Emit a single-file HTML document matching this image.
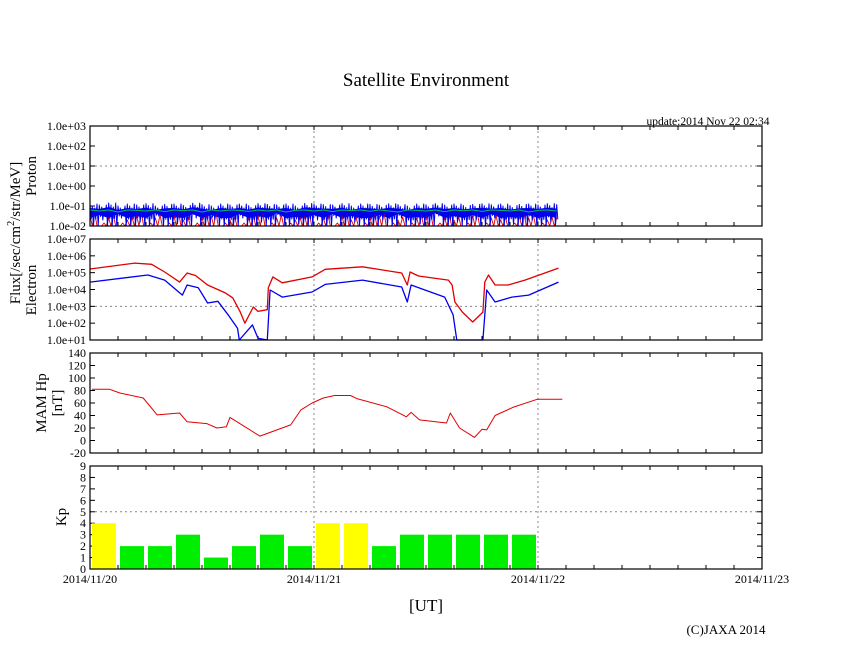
<!DOCTYPE html>
<html><head><meta charset="utf-8"><style>
html,body{margin:0;padding:0;background:#fff;}
svg{display:block;font-family:"Liberation Serif",serif;}
</style></head><body>
<svg id="c" width="846" height="655" xmlns="http://www.w3.org/2000/svg"></svg>
<script>
// ---- data (time in hours from 2014/11/20 00:00 UT) ----
const dayLabels = ["2014/11/20","2014/11/21","2014/11/22","2014/11/23"];
const protonTicks = ["1.0e-02","1.0e-01","1.0e+00","1.0e+01","1.0e+02","1.0e+03"];
const electronTicks = ["1.0e+01","1.0e+02","1.0e+03","1.0e+04","1.0e+05","1.0e+06","1.0e+07"];
const hpTicks = [-20,0,20,40,60,80,100,120,140];
const kpTicks = [0,1,2,3,4,5,6,7,8,9];
// proton (hourly, log10 flux)
const protonBlueHi = [-0.9,-0.95,-0.85,-1.0,-0.9,-0.95,-0.88,-1.0,-0.92,-0.9,-0.97,-0.86,-0.93,-1.0,-0.9,-0.95,-0.9,-0.98,-0.88,-0.92,-0.95,-0.9,-1.0,-0.87,-0.9,-0.93,-0.95,-0.88,-1.0,-0.9,-0.92,-0.96,-0.89,-0.93,-1.0,-0.9,-0.94,-0.88,-0.95,-0.9,-0.97,-0.92,-0.89,-0.94,-0.9,-0.98,-0.92,-0.9,-0.95,-0.88,-0.93];
const protonBlueLo = [-2,-1.7,-2,-1.6,-2,-1.8,-2,-1.5,-2,-1.9,-2,-1.6,-2,-1.7,-2,-2,-1.6,-2,-1.8,-2,-1.5,-2,-1.9,-2,-1.7,-2,-1.6,-2,-1.8,-2,-2,-1.7,-2,-1.6,-2,-1.9,-2,-1.5,-2,-1.8,-2,-1.7,-2,-1.6,-2,-1.9,-2,-1.7,-2,-1.8,-2];
const protonGreen = [-1.2,-1.25,-1.2,-1.3,-1.2,-1.22,-1.25,-1.2,-1.28,-1.2,-1.23,-1.2,-1.3,-1.2,-1.25,-1.2,-1.22,-1.27,-1.2,-1.25,-1.2,-1.3,-1.22,-1.2,-1.25,-1.2,-1.28,-1.2,-1.23,-1.2,-1.26,-1.2,-1.25,-1.3,-1.2,-1.22,-1.25,-1.2,-1.28,-1.2,-1.24,-1.2,-1.27,-1.2,-1.22,-1.25,-1.2,-1.3,-1.22,-1.2,-1.25];
const protonRedHi = [-1.5,-2,-1.6,-2,-1.7,-1.5,-2,-1.6,-2,-1.5,-1.7,-2,-1.6,-1.5,-2,-1.7,-2,-1.6,-1.5,-2,-1.6,-2,-1.7,-1.5,-2,-1.6,-2,-1.5,-1.7,-2,-1.6,-1.5,-2,-1.7,-2,-1.6,-1.5,-2,-1.6,-1.7,-2,-1.5,-2,-1.6,-1.7,-2,-1.5,-1.6,-2,-1.7,-1.6];
// electron (log10 flux)
const elecRedT = [0,4.8,6.6,8,9.6,10.4,11.3,12.6,14.5,15.3,16.1,16.6,17.5,18,19,19.1,19.6,20.6,23.8,25.2,29.2,33.4,34,34.3,35.2,38.4,38.8,39.1,39.9,41,42.1,42.3,42.7,43.4,44.8,46.6,50.2];
const elecRedV = [5.22,5.57,5.5,5.04,4.44,4.98,4.83,4.27,3.8,3.5,2.66,2.0,2.96,2.7,2.8,4.1,4.75,4.4,4.75,5.2,5.35,4.98,4.27,5.04,4.8,4.56,4.27,3.26,2.66,2.07,2.66,4.44,4.86,4.27,4.27,4.56,5.27];
const elecBlueT = [0,6.2,8,9.9,10.4,11.6,12.6,13.7,14.8,15.8,16,17.4,18,19,19.3,20.6,23.8,25.2,29.2,33.4,34,34.4,38,38.9,39.3,42.1,42.5,43.4,45.2,47,50.2];
const elecBlueV = [4.44,4.86,4.56,3.67,4.27,4.1,3.2,3.3,2.5,1.7,1.0,1.9,1.1,1.0,3.97,3.55,3.85,4.3,4.56,4.15,3.26,4.27,3.55,2.5,1.0,1.0,3.97,3.26,3.55,3.67,4.44];
// MAM Hp (nT)
const hpT = [0.2,2.1,3.2,5.7,7.2,9.6,10.4,12.5,13.6,14.6,15.0,18.2,21.5,22.6,23.8,25.0,26.2,27.9,28.6,31.8,33.9,34.4,35.3,38.2,38.6,39.6,41.2,42.0,42.5,43.4,45.3,47.9,50.6];
const hpV = [82,82,76,68,41,44,30,27,20,22,37,7,25,49,60,68,72,72,67,54,38,45,33,28,44,20,5,18,17,40,53,66,66];
// Kp (3-hour bins)
const kpValues = [4,2,2,3,1,2,3,2,4,4,2,3,3,3,3,3];

// ---- layout ----
const X0=90, X1=762, HOURS=72;
const xS = t => X0 + (X1-X0)*t/HOURS;
const P1={top:126,bot:226,min:-2,max:3};
const P2={top:239,bot:340,min:1,max:7};
const P3={top:353,bot:453,min:-20,max:140};
const P4={top:466,bot:569,min:0,max:9};
const yS = (p,v) => p.bot - (p.bot-p.top)*(v-p.min)/(p.max-p.min);
const svg=document.getElementById('c');
const NS="http://www.w3.org/2000/svg";
function mk(tag,attrs,parent){const e=document.createElementNS(NS,tag);for(const k in attrs)e.setAttribute(k,attrs[k]);(parent||svg).appendChild(e);return e;}
function txt(s,x,y,size,anchor,parent,rot){const e=mk('text',{x:x,y:y,'font-size':size,'text-anchor':anchor||'start',fill:'#000'},parent);if(rot)e.setAttribute('transform',`rotate(-90 ${x} ${y})`);e.textContent=s;return e;}

let t=txt("Satellite Environment",426,86,19,'middle');


t=txt("update:2014 Nov 22 02:34",708,125,11.5,'middle');


t=txt("[UT]",426,611,17,'middle');


t=txt("(C)JAXA 2014",726,634,13,'middle');



// y titles
let g=mk('g',{});


const ft=mk('text',{x:20,y:233,'font-size':15,'text-anchor':'middle',transform:'rotate(-90 20 233)'},g);
ft.innerHTML='Flux[/sec/cm<tspan dy="-6" font-size="10">2</tspan><tspan dy="6">/str/MeV]</tspan>';
t=txt("Proton",36,176,15,'middle',null,true);


t=txt("Electron",36,290,15,'middle',null,true);


t=txt("MAM Hp",46,403,15,'middle',null,true);


t=txt("[nT]",62,403,15,'middle',null,true);


t=txt("Kp",66,517,15,'middle',null,true);



function frame(p,name,ticks,tickVal,hgrid){
  const gg=mk('g',{});
  
  
  for(let d=1;d<3;d++){const x=xS(d*24);mk('line',{x1:x,x2:x,y1:p.top,y2:p.bot,stroke:'#888','stroke-dasharray':'2,3','stroke-width':1},gg);}
  if(hgrid!==undefined){const y=yS(p,hgrid);mk('line',{x1:X0,x2:X1,y1:y,y2:y,stroke:'#888','stroke-dasharray':'2,3','stroke-width':1},gg);}
  for(let h=3;h<HOURS;h+=3){const x=xS(h);mk('line',{x1:x,x2:x,y1:p.bot,y2:p.bot-4,stroke:'#000'},gg);mk('line',{x1:x,x2:x,y1:p.top,y2:p.top+4,stroke:'#000'},gg);}
  ticks.forEach((lab,i)=>{const y=yS(p,tickVal(i));mk('line',{x1:X0,x2:X0+5,y1:y,y2:y,stroke:'#000'},gg);mk('line',{x1:X1,x2:X1-5,y1:y,y2:y,stroke:'#000'},gg);
    const tl=txt(String(lab),86,y+4,12,'end',gg);
    
    });
  return gg;
}
function border(p,gg){mk('rect',{x:X0,y:p.top,width:X1-X0,height:p.bot-p.top,fill:'none',stroke:'#000','stroke-width':1.2},gg);}
function line(pts,color,gg,w){mk('polyline',{points:pts.map(q=>q[0].toFixed(1)+','+q[1].toFixed(1)).join(' '),fill:'none',stroke:color,'stroke-width':w||1,'stroke-linejoin':'round'},gg);}

// Panel 1 proton
let g1=frame(P1,'proton',protonTicks,i=>-2+i,1);
// dense blue band core
let band=[];
protonBlueHi.forEach((v,i)=>{if(i<=50.2)band.push([xS(i),yS(P1,v-0.2)]);});
for(let i=protonBlueLo.length-1;i>=0;i--){band.push([xS(Math.min(i,50.2)),yS(P1,(protonBlueLo[i]-1.2)/2)]);}
mk('polygon',{points:band.map(q=>q[0].toFixed(1)+','+q[1].toFixed(1)).join(' '),fill:'#0000dd'},g1);
let pts=[];
protonRedHi.forEach((v,i)=>{for(let k=0;k<4;k++){const tt=i+k*0.25;if(tt>50.2)break;pts.push([xS(tt),yS(P1,k%2?-2:v+(k===2?0.15:0))]);}});
line(pts,'#e00000',g1,0.9);
pts=[];
protonBlueHi.forEach((v,i)=>{for(let k=0;k<8;k++){const tt=i+k/8;if(tt>50.2)break;const lo=protonBlueLo[i];pts.push([xS(tt),yS(P1,k%2? (k===3?lo:(k===7?-2:(lo+v)/2-0.2)) : v-(k===2?0.1:(k===4?0.2:0)))]);}});
line(pts,'#0000ee',g1,1);
pts=protonGreen.map((v,i)=>[xS(Math.min(i,50.2)),yS(P1,v)]);
line(pts,'#00c060',g1,1);
border(P1,g1);

// Panel 2 electron
let g2=frame(P2,'electron',electronTicks,i=>1+i,3);
line(elecRedT.map((tt,i)=>[xS(tt),yS(P2,elecRedV[i])]),'#e00000',g2,1.3);
line(elecBlueT.map((tt,i)=>[xS(tt),yS(P2,elecBlueV[i])]),'#0000ee',g2,1.3);
border(P2,g2);

// Panel 3 Hp
let g3=frame(P3,'hp',hpTicks,i=>hpTicks[i]);
line(hpT.map((tt,i)=>[xS(tt),yS(P3,hpV[i])]),'#e00000',g3,1);
border(P3,g3);

// Panel 4 Kp
let g4=frame(P4,'kp',kpTicks,i=>kpTicks[i],5);
kpValues.forEach((v,i)=>{
  const x=xS(i*3)+2, w=xS(3)-X0-4, y=yS(P4,v);
  const r=mk('rect',{x:x,y:y,width:w,height:P4.bot-y,fill:v>=4?'#ffff00':'#00ee00'},g4);
  
  
});
border(P4,g4);

dayLabels.forEach((d,i)=>{const l=txt(d,xS(i*24),583,12,'middle');
  
  });
</script>
</body></html>
